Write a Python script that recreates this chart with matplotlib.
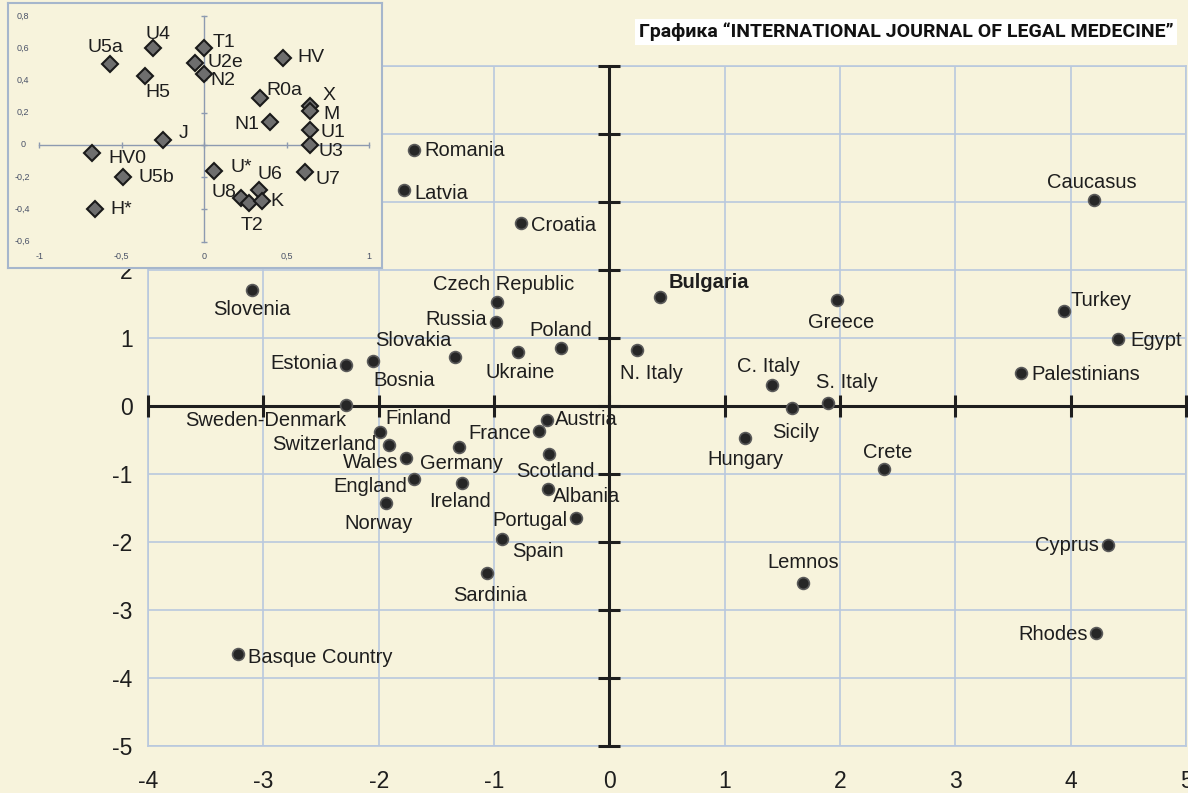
import numpy as np
import matplotlib.pyplot as plt

plt.rcParams['font.family'] = ['Liberation Sans', 'DejaVu Sans']
plt.rcParams['axes.unicode_minus'] = False

# population scores on PC1 / PC2
populations = ["Romania", "Latvia", "Croatia", "Caucasus", "Slovenia", "Czech Republic",
               "Bulgaria", "Greece", "Turkey", "Egypt", "Russia", "Poland", "Slovakia",
               "Ukraine", "Bosnia", "Estonia", "N. Italy", "C. Italy", "S. Italy",
               "Palestinians", "Sweden-Denmark", "Sicily", "Finland", "Switzerland",
               "Wales", "England", "Norway", "Germany", "Ireland", "Austria", "France",
               "Scotland", "Albania", "Portugal", "Spain", "Sardinia", "Hungary", "Crete",
               "Lemnos", "Cyprus", "Rhodes", "Basque Country"]
pc1 = [-1.69, -1.78, -0.77, 4.20, -3.10, -0.97, 0.44, 1.97, 3.94, 4.41, -0.98, -0.42, -1.34,
       -0.79, -2.05, -2.28, 0.24, 1.41, 1.90, 3.57, -2.28, 1.58, -1.99, -1.91, -1.76, -1.69,
       -1.94, -1.30, -1.28, -0.54, -0.61, -0.52, -0.53, -0.29, -0.93, -1.06, 1.18, 2.38,
       1.68, 4.32, 4.22, -3.22]
pc2 = [3.76, 3.18, 2.69, 3.03, 1.71, 1.53, 1.60, 1.56, 1.40, 0.99, 1.24, 0.85, 0.72, 0.79,
       0.66, 0.60, 0.82, 0.31, 0.04, 0.49, 0.01, -0.03, -0.38, -0.57, -0.76, -1.07, -1.43,
       -0.60, -1.13, -0.21, -0.37, -0.71, -1.22, -1.65, -1.96, -2.46, -0.47, -0.93, -2.60,
       -2.04, -3.34, -3.65]

# haplogroup loadings (inset)
haplogroups = ["U5a", "U4", "T1", "U2e", "N2", "H5", "HV", "R0a", "X", "M", "N1", "U1", "U3",
               "J", "HV0", "U5b", "H*", "U*", "U7", "U6", "U8", "T2", "K"]
load1 = [-0.57, -0.31, 0.00, -0.055, 0.00, -0.36, 0.48, 0.34, 0.64, 0.64, 0.40, 0.64, 0.64,
         -0.25, -0.68, -0.49, -0.66, 0.06, 0.61, 0.33, 0.22, 0.27, 0.35]
load2 = [0.50, 0.60, 0.60, 0.51, 0.44, 0.43, 0.54, 0.29, 0.24, 0.21, 0.14, 0.09, 0.00,
         0.03, -0.05, -0.20, -0.40, -0.16, -0.17, -0.28, -0.33, -0.36, -0.35]

main_xticks = list(range(-4, 6))
main_yticks = list(range(-5, 6))
inset_xticks = [-1, -0.5, 0, 0.5, 1]
inset_xlabels = ["-1", "-0,5", "0", "0,5", "1"]
inset_yticks = [0.8, 0.6, 0.4, 0.2, 0, -0.2, -0.4, -0.6]
inset_ylabels = ["0,8", "0,6", "0,4", "0,2", "0", "-0,2", "-0,4", "-0,6"]

title = "Графика “INTERNATIONAL JOURNAL OF LEGAL MEDECINE”"

# label placement (pixel offset from point, alignment)
pop_pos = {
    "Romania": (10, 0, "left"), "Latvia": (10, -4, "left"), "Croatia": (10, -2, "left"),
    "Caucasus": (-2, 17, "center"), "Slovenia": (0, -20, "center"),
    "Czech Republic": (6, 17, "center"), "Bulgaria": (9, 15, "left"),
    "Greece": (5, -23, "center"), "Turkey": (7, 10, "left"), "Egypt": (12, -2, "left"),
    "Russia": (-9, 2, "right"), "Poland": (0, 18, "center"), "Slovakia": (-3, 17, "right"),
    "Ukraine": (2, -20, "center"), "Bosnia": (0, -19, "left"), "Estonia": (-9, 2, "right"),
    "N. Italy": (-17, -23, "left"), "C. Italy": (-4, 18, "center"),
    "S. Italy": (-12, 21, "left"), "Palestinians": (10, -2, "left"),
    "Sweden-Denmark": (0, -15, "right"), "Sicily": (4, -24, "center"),
    "Finland": (6, 13, "left"), "Switzerland": (-13, 0, "right"),
    "Wales": (-8, -5, "right"), "England": (-7, -8, "right"), "Norway": (-7, -20, "center"),
    "Germany": (2, -17, "center"), "Ireland": (-2, -19, "center"),
    "Austria": (8, 1, "left"), "France": (-8, -2, "right"), "Scotland": (6, -17, "center"),
    "Albania": (5, -8, "left"), "Portugal": (-8, -2, "right"), "Spain": (10, -12, "left"),
    "Sardinia": (3, -22, "center"), "Hungary": (0, -22, "center"),
    "Crete": (4, 17, "center"), "Lemnos": (0, 20, "center"), "Cyprus": (-9, -1, "right"),
    "Rhodes": (-8, -1, "right"), "Basque Country": (10, -3, "left"),
}
hap_pos = {
    "U5a": (-5, 17, "center"), "U4": (5, 14, "center"), "T1": (8, 6, "left"),
    "U2e": (12, 0, "left"), "N2": (6, -7, "left"), "H5": (0, -17, "left"),
    "HV": (14, 0, "left"), "R0a": (6, 8, "left"), "X": (13, 11, "left"),
    "M": (13, -3, "left"), "N1": (-11, -2, "right"), "U1": (11, -2, "left"),
    "U3": (9, -7, "left"), "J": (16, 7, "left"), "HV0": (16, -5, "left"),
    "U5b": (15, 0, "left"), "H*": (15, 0, "left"), "U*": (16, 3, "left"),
    "U7": (11, -7, "left"), "U6": (-1, 16, "left"), "U8": (-4, 6, "right"),
    "T2": (3, -22, "center"), "K": (8, 0, "left"),
}

bg = "#f7f3dc"
grid_c = "#b9c8de"
ink = "#1e1e1e"

fig = plt.figure(figsize=(11.88, 7.93), dpi=100, facecolor=bg)

# main PCA plot
ax = fig.add_axes([0.1246, 0.0593, 0.8737, 0.8575], facecolor=bg)
ax.set_xlim(-4, 5)
ax.set_ylim(-5, 5)
ax.set_xticks(main_xticks)
ax.set_yticks(main_yticks)
ax.tick_params(length=0, labelsize=16.5, colors=ink)
ax.tick_params(axis="x", pad=17)
ax.tick_params(axis="y", pad=11)
ax.grid(True, color=grid_c, lw=1.2)
ax.set_axisbelow(True)
for s in ax.spines.values():
    s.set_color(grid_c)
    s.set_linewidth(1.2)

ax.plot([-4, 5], [0, 0], color=ink, lw=2.2, zorder=3)
ax.plot([0, 0], [-5, 5], color=ink, lw=2.2, zorder=3)
ax.plot(main_xticks, np.zeros(len(main_xticks)), ls="none", marker="|", ms=16, mew=2.2,
        color=ink, zorder=3, clip_on=False)
ax.plot(np.zeros(len(main_yticks)), main_yticks, ls="none", marker="_", ms=16, mew=2.2,
        color=ink, zorder=3, clip_on=False)

ax.plot(pc1, pc2, "o", ms=8.5, mfc="#262626", mec="#5a5a5a", mew=1.2, zorder=5)
for name, x, y in zip(populations, pc1, pc2):
    dx, dy, ha = pop_pos[name]
    ax.annotate(name, (x, y), xytext=(dx, dy), textcoords="offset pixels", ha=ha,
                va="center", fontsize=14.5, color=ink,
                fontweight="bold" if name == "Bulgaria" else "normal", zorder=6)

# inset: haplogroup loadings
ins = fig.add_axes([0.00673, 0.662, 0.3148, 0.3342], facecolor=bg, zorder=10)
ins.set_xlim(-1.19, 1.077)
ins.set_ylim(-0.763, 0.88)
ins.set_xticks([])
ins.set_yticks([])
for s in ins.spines.values():
    s.set_color("#a6b6cc")
    s.set_linewidth(1.5)

ax_c = "#8d9ab0"
ins.plot([-1, 1], [0, 0], color=ax_c, lw=1)
ins.plot([0, 0], [-0.6, 0.8], color=ax_c, lw=1)
ins.plot(inset_xticks, np.zeros(len(inset_xticks)), ls="none", marker="|", ms=5, color=ax_c)
ins.plot(np.zeros(len(inset_yticks)), inset_yticks, ls="none", marker="_", ms=5, color=ax_c)
for t, lab in zip(inset_xticks, inset_xlabels):
    ins.text(t, -0.689, lab, ha="center", va="center", fontsize=6.5, color="#4a5268")
for t, lab in zip(inset_yticks, inset_ylabels):
    ins.text(-1.10, t, lab, ha="center", va="center", fontsize=6.5, color="#4a5268")

ins.plot(load1, load2, "D", ms=8, mfc="#6e6e6e", mec="#1a1a1a", mew=1.5, zorder=5)
for name, x, y in zip(haplogroups, load1, load2):
    dx, dy, ha = hap_pos[name]
    ins.annotate(name, (x, y), xytext=(dx, dy), textcoords="offset pixels", ha=ha,
                 va="center", fontsize=14, color=ink, zorder=6)

fig.text(0.7626, 0.9596, title, ha="center", va="center", fontsize=14, fontweight="bold",
         family=["Roboto", "DejaVu Sans"], color="#111111",
         bbox=dict(fc="white", ec="none", pad=3))

fig.savefig("out.png", dpi=100, facecolor=bg)
